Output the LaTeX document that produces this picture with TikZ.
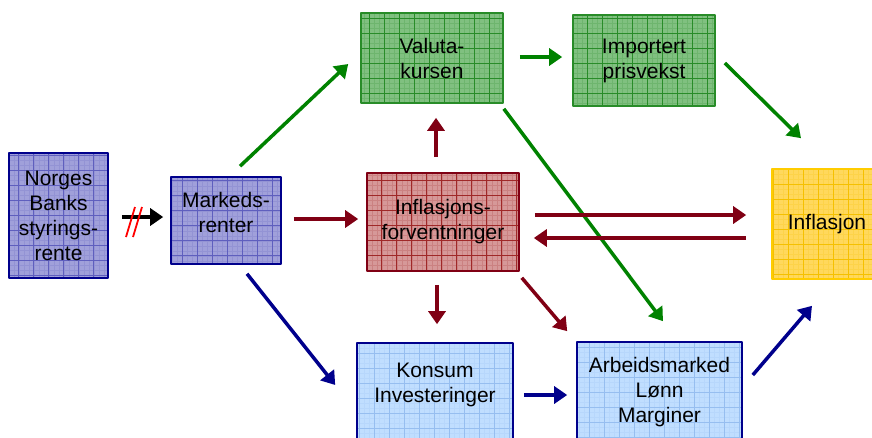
\documentclass[tikz,border=0pt]{standalone}
\usepackage{fontspec}
\setmainfont{Liberation Sans}
\usetikzlibrary{arrows.meta}
\definecolor{lavfill}{RGB}{160,160,218}
\definecolor{lavgrid}{RGB}{95,95,190}
\definecolor{navy}{RGB}{0,0,140}
\definecolor{grfill}{RGB}{128,192,128}
\definecolor{grgrid}{RGB}{40,140,40}
\definecolor{grline}{RGB}{0,130,0}
\definecolor{rdfill}{RGB}{214,152,152}
\definecolor{rdgrid}{RGB}{160,40,40}
\definecolor{rdline}{RGB}{128,0,20}
\definecolor{ylfill}{RGB}{255,216,92}
\definecolor{ylgrid}{RGB}{245,192,0}
\definecolor{ylline}{RGB}{255,204,0}
\definecolor{bufill}{RGB}{192,222,255}
\definecolor{bugrid}{RGB}{150,190,240}
\newcommand\lifted[2]{\raisebox{#1}[\height][\depth]{\begin{tabular}{@{}c@{}}#2\end{tabular}}}
\begin{document}
\begin{tikzpicture}[x=1pt, y=-1pt, font=\fontsize{21}{25}\selectfont, line join=round, >={Triangle[length=13pt,width=17pt]},
    box/.style 2 args={draw=#2, fill=#1, line width=1.6pt, align=center, inner sep=0pt},
    gridded/.style={path picture={
        \draw[#1, line width=0.25pt, step=5pt, opacity=0.2] (path picture bounding box.south west) grid (path picture bounding box.north east);
        \draw[#1, line width=0.7pt, step=15pt] (path picture bounding box.south west) grid (path picture bounding box.north east);}},
    garrow/.style={->, grline, line width=3.5pt},
    rarrow/.style={->, rdline, line width=3.5pt},
    barrow/.style={->, navy, line width=3.5pt}]
\useasboundingbox (0,0) rectangle (872,437);
% boxes
\node[box={lavfill}{navy}, gridded=lavgrid, minimum width=99pt, minimum height=125pt] (norges) at (58.5,215.5) {Norges\\Banks\\styrings-\\rente};
\node[box={lavfill}{navy}, gridded=lavgrid, minimum width=110pt, minimum height=87pt] (markeds) at (226,220.5) {\lifted{6pt}{Markeds-\\renter}};
\node[box={grfill}{grgrid}, gridded=grgrid, minimum width=142pt, minimum height=90pt] (valuta) at (432,58) {Valuta-\\kursen};
\node[box={grfill}{grgrid}, gridded=grgrid, minimum width=142pt, minimum height=91pt] (import) at (644,60.5) {Importert\\prisvekst};
\node[box={rdfill}{rdline}, gridded=rdgrid, minimum width=152pt, minimum height=98pt] (forv) at (443,222) {Inflasjons-\\forventninger};
\node[box={ylfill}{ylline}, gridded=ylgrid, minimum width=110pt, minimum height=110pt] (infl) at (827,224) {Inflasjon};
\node[box={bufill}{navy}, gridded=bugrid, minimum width=156pt, minimum height=100pt] (konsum) at (435,393) {\lifted{8pt}{Konsum\\Investeringer}};
\node[box={bufill}{navy}, gridded=bugrid, minimum width=165pt, minimum height=100pt] (arbeid) at (659.5,392) {Arbeidsmarked\\Lønn\\Marginer};
% arrows
\draw[->, black, line width=3.5pt] ([xshift=13pt,yshift=-1.5pt]norges.east) -- ([xshift=-7pt,yshift=3.5pt]markeds.west);
\draw[red, line width=1.8pt] (126,237) -- (135,207) (133,237) -- (142,207);
\draw[garrow] ([xshift=14pt,yshift=10pt]markeds.north) -- ([xshift=-12pt,yshift=-6pt]valuta.west);
\draw[garrow] ([xshift=16pt,yshift=1pt]valuta.east) -- ([xshift=-10pt,yshift=3.5pt]import.west);
\draw[garrow] ([xshift=9pt,yshift=-2.5pt]import.east) -- ([xshift=-26pt,yshift=30pt]infl.north);
\draw[garrow] ([yshift=-5pt]valuta.south east) -- ([xshift=3.5pt,yshift=20pt]arbeid.north);
\draw[rarrow] ([xshift=12pt,yshift=1.5pt]markeds.east) -- ([xshift=-8pt,yshift=3pt]forv.west);
\draw[rarrow] ([xshift=-7pt,yshift=15pt]forv.north) -- ([xshift=4pt,yshift=-14pt]valuta.south);
\draw[rarrow] ([xshift=15pt,yshift=7pt]forv.east) -- ([xshift=-25pt,yshift=9pt]infl.west);
\draw[rarrow] ([xshift=-25pt,yshift=-14pt]infl.west) -- ([xshift=14pt,yshift=-16pt]forv.east);
\draw[rarrow] ([xshift=-6pt,yshift=-13pt]forv.south) -- ([xshift=2pt,yshift=18pt]konsum.north);
\draw[rarrow] ([xshift=2pt,yshift=-6pt]forv.south east) -- ([xshift=-9pt,yshift=10pt]arbeid.north west);
\draw[barrow] ([xshift=21pt,yshift=-9pt]markeds.south) -- ([xshift=-21pt,yshift=8pt]konsum.west);
\draw[barrow] ([xshift=10pt,yshift=-2pt]konsum.east) -- ([xshift=-9pt,yshift=-3pt]arbeid.west);
\draw[barrow] ([xshift=10pt,yshift=17pt]arbeid.east) -- ([xshift=-15pt,yshift=-26pt]infl.south);
\end{tikzpicture}
\end{document}
